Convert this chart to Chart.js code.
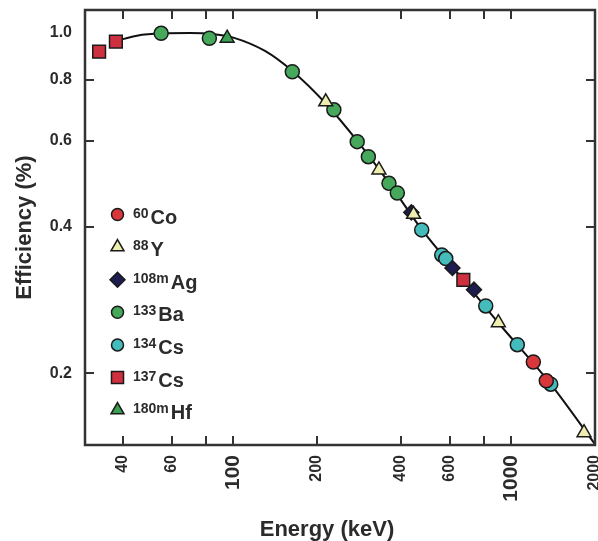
<!DOCTYPE html>
<html>
<head>
<meta charset="utf-8">
<script src="https://cdn.jsdelivr.net/npm/chart.js@4.4.1/dist/chart.umd.min.js"></script>
<style>
  html, body { margin: 0; padding: 0; background: #fff; }
  #wrap { width: 598px; height: 541px; }
</style>
</head>
<body>
<div id="wrap"><canvas id="effChart"></canvas></div>
<script>
// values (energy in keV, efficiency in %)
const xTicks = [40, 60, 80, 100, 200, 400, 600, 800, 1000, 2000];
const xLabelled = [40, 60, 100, 200, 400, 600, 1000, 2000];
const xBig = [100, 1000];
const yTicks = [0.2, 0.4, 0.6, 0.8, 1.0];

const co60E = [1200, 1336];
const co60Eff = [0.211, 0.193];
const y88E = [215, 334, 445, 898, 1826];
const y88Eff = [0.722, 0.523, 0.424, 0.254, 0.151];
const ag108mE = [437, 614, 734];
const ag108mEff = [0.428, 0.329, 0.297];
const ba133E = [55, 82, 163, 230, 279, 306, 363, 389];
const ba133Eff = [0.998, 0.975, 0.832, 0.695, 0.598, 0.557, 0.491, 0.469];
const cs134E = [476, 562, 581, 809, 1051, 1386];
const cs134Eff = [0.394, 0.350, 0.344, 0.275, 0.229, 0.190];
const cs137E = [32.9, 37.8, 672];
const cs137Eff = [0.915, 0.960, 0.311];
const hf180mE = [95];
const hf180mEff = [0.975];

// fitted curve
const fitE = [37.8, 45, 55, 70, 85, 100, 130, 163, 215, 279, 363, 476, 672, 898, 1386, 2000];
const fitEff = [0.962, 0.987, 0.998, 1.0, 0.994, 0.978, 0.918, 0.835, 0.716, 0.600, 0.492, 0.395, 0.311, 0.254, 0.190, 0.143];

const FONT = '"Liberation Sans", Arial, sans-serif';
const INK = '#2b2b2b';

const toPoints = (xs, ys) => xs.map((x, i) => ({ x: x, y: ys[i] }));

const nuclides = [
  { sup: '60',   sym: 'Co', e: co60E,   v: co60Eff,   fill: '#d8383c', style: 'circle',   r: 7,   lr: 6 },
  { sup: '88',   sym: 'Y',  e: y88E,    v: y88Eff,    fill: '#eeeeb0', style: 'triangle', r: 8,   lr: 7.5 },
  { sup: '108m', sym: 'Ag', e: ag108mE, v: ag108mEff, fill: '#1c1c4e', style: 'rectRot',  r: 7.5, lr: 7.5 },
  { sup: '133',  sym: 'Ba', e: ba133E,  v: ba133Eff,  fill: '#45a85a', style: 'circle',   r: 7,   lr: 6 },
  { sup: '134',  sym: 'Cs', e: cs134E,  v: cs134Eff,  fill: '#45bcbc', style: 'circle',   r: 7,   lr: 6 },
  { sup: '137',  sym: 'Cs', e: cs137E,  v: cs137Eff,  fill: '#cf3040', style: 'rect',     r: 9,   lr: 8.5 },
  { sup: '180m', sym: 'Hf', e: hf180mE, v: hf180mEff, fill: '#3a9f52', style: 'triangle', r: 8,   lr: 7.5 }
];

const datasets = nuclides.map(n => ({
  label: n.sup + n.sym,
  data: toPoints(n.e, n.v),
  pointStyle: n.style,
  pointRadius: n.r,
  pointBackgroundColor: n.fill,
  pointBorderColor: '#1a1a1a',
  pointBorderWidth: 1.5,
  showLine: false,
  order: 0
}));

datasets.push({
  label: 'fit',
  data: toPoints(fitE, fitEff),
  showLine: true,
  borderColor: '#111',
  borderWidth: 2,
  pointRadius: 0,
  cubicInterpolationMode: 'monotone',
  order: 10
});

// frame with inward ticks on all four sides, in-plot legend, x title
const frameAndLegend = {
  id: 'frameAndLegend',
  afterDraw(chart) {
    const { ctx, chartArea: a, scales: { x, y } } = chart;
    ctx.save();
    ctx.strokeStyle = '#333';
    ctx.lineWidth = 2.5;
    ctx.strokeRect(a.left, a.top, a.right - a.left, a.bottom - a.top);

    ctx.lineWidth = 2;
    const tl = 9;
    ctx.beginPath();
    xTicks.filter(v => v < 2000).forEach(v => {
      const px = Math.round(x.getPixelForValue(v));
      ctx.moveTo(px, a.bottom); ctx.lineTo(px, a.bottom - tl);
      ctx.moveTo(px, a.top); ctx.lineTo(px, a.top + tl);
    });
    yTicks.filter(v => v < 1).forEach(v => {
      const py = Math.round(y.getPixelForValue(v));
      ctx.moveTo(a.left, py); ctx.lineTo(a.left + tl, py);
      ctx.moveTo(a.right, py); ctx.lineTo(a.right - tl, py);
    });
    ctx.stroke();

    // legend
    const lx = 117.5, ly0 = 214.5, step = 32.6;
    nuclides.forEach((n, i) => {
      const cy = ly0 + i * step;
      ctx.fillStyle = n.fill;
      ctx.strokeStyle = '#1a1a1a';
      ctx.lineWidth = 1.5;
      Chart.helpers.drawPoint(ctx, { pointStyle: n.style, radius: n.lr, rotation: 0, borderWidth: 1.5 }, lx, cy);

      ctx.fillStyle = INK;
      ctx.textAlign = 'left';
      ctx.textBaseline = 'alphabetic';
      ctx.font = 'bold 14px ' + FONT;
      ctx.fillText(n.sup, 133, cy + 3);
      const w = ctx.measureText(n.sup).width;
      ctx.font = 'bold 20px ' + FONT;
      ctx.fillText(n.sym, 133 + w + 2, cy + 9);
    });

    // x axis title
    ctx.fillStyle = INK;
    ctx.font = 'bold 22px ' + FONT;
    ctx.textAlign = 'center';
    ctx.fillText('Energy (keV)', 327, 536);
    ctx.restore();
  }
};

Chart.defaults.font.family = FONT;
Chart.defaults.color = INK;

new Chart(document.getElementById('effChart').getContext('2d'), {
  type: 'scatter',
  data: { datasets: datasets },
  options: {
    responsive: true,
    maintainAspectRatio: false,
    animation: false,
    devicePixelRatio: 1,
    layout: { autoPadding: false, padding: { top: 10, right: 3, left: 0, bottom: 0 } },
    plugins: {
      legend: { display: false },
      tooltip: { enabled: false }
    },
    scales: {
      x: {
        type: 'logarithmic',
        min: 29.27,
        max: 2000,
        grid: { display: false, drawTicks: false },
        border: { display: false },
        afterBuildTicks: s => { s.ticks = xTicks.map(v => ({ value: v })); },
        afterFit: s => { s.height = 96; s.paddingLeft = 0; s.paddingRight = 0; },
        ticks: {
          autoSkip: false,
          minRotation: 90,
          maxRotation: 90,
          padding: 10,
          color: INK,
          font: c => ({ size: xBig.includes(c.tick && c.tick.value) ? 21 : 16, weight: 'bold' }),
          callback: v => (xLabelled.includes(v) ? String(v) : '')
        },
        title: { display: false }
      },
      y: {
        type: 'logarithmic',
        min: 0.1425,
        max: 1.1143,
        grid: { display: false, drawTicks: false },
        border: { display: false },
        afterBuildTicks: s => { s.ticks = yTicks.map(v => ({ value: v })); },
        afterFit: s => { s.width = 85; s.paddingTop = 0; s.paddingBottom = 0; },
        ticks: {
          padding: 13,
          color: INK,
          font: { size: 16, weight: 'bold' },
          callback: v => Number(v).toFixed(1)
        },
        title: {
          display: true,
          text: 'Efficiency (%)',
          color: INK,
          font: { size: 22, weight: 'bold' },
          padding: { top: 12, bottom: 0 }
        }
      }
    }
  },
  plugins: [frameAndLegend]
});
</script>
</body>
</html>
